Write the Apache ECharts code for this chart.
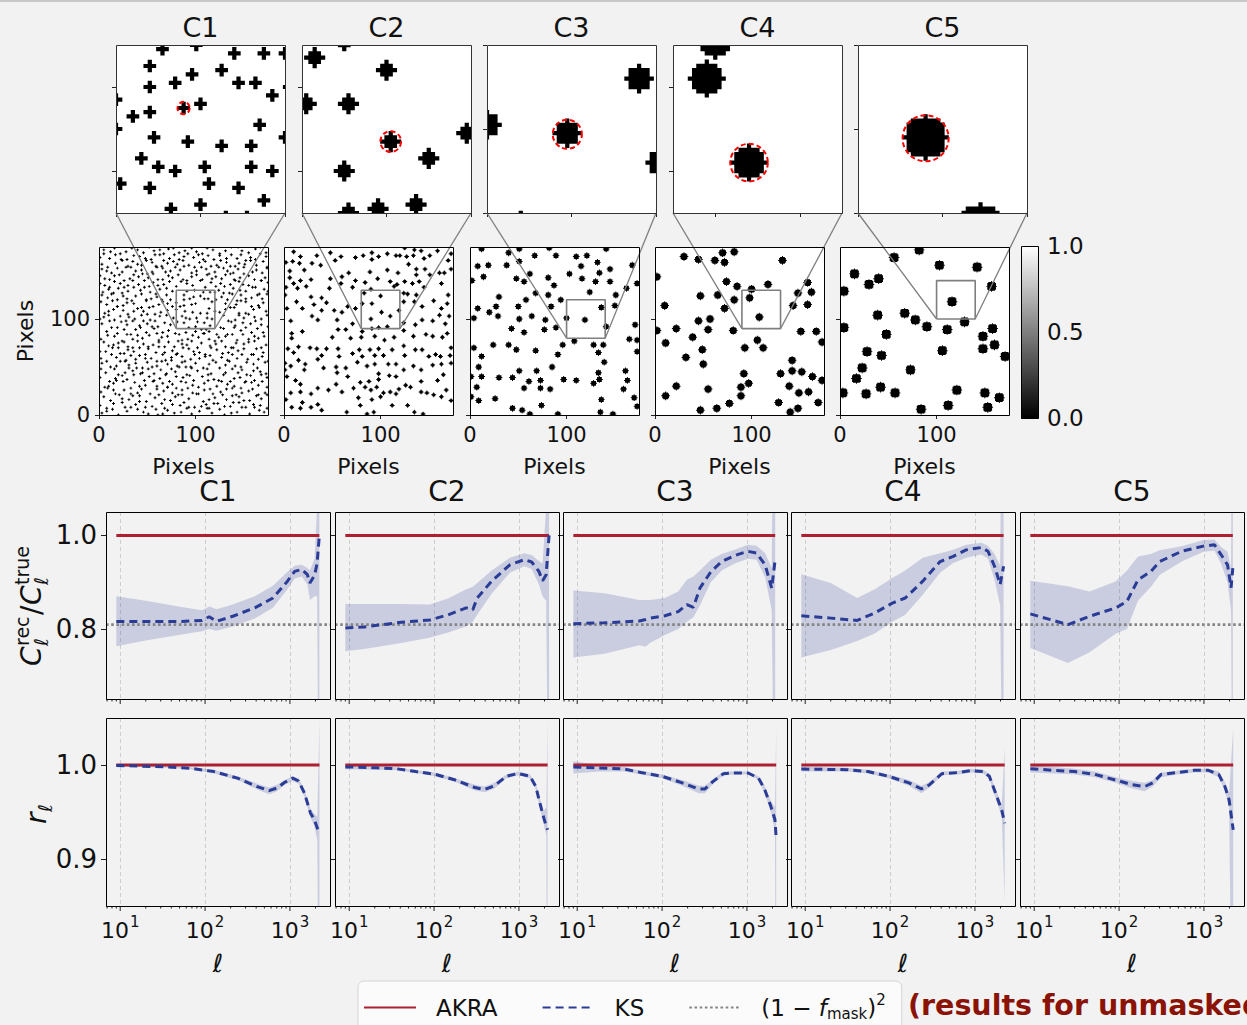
<!DOCTYPE html>
<html><head><meta charset="utf-8">
<script src="https://cdn.jsdelivr.net/npm/echarts@6/dist/echarts.min.js"></script>
<style>html,body{margin:0;padding:0;background:#f2f2f2;}#c{width:1247px;height:1025px;}</style>
</head><body><div id="c"></div>
<script>
// ---------------- DATA ----------------
const configNames = ['C1','C2','C3','C4','C5'];
// hole radius (mask pixels) for each configuration
const holeRadius = [1,2,3,4,5];
// highlighted hole (red dashed circle) in each zoom window
const holeCenters = [[96,115],[101,107],[119,99],[108,102],[116,118]];
// zoom windows [xmin,xmax,ymin,ymax] in mask pixels
const zoomBoxes = [[80,120,90,130],[80,120,90,130],[100,140,80,120],[90,130,90,130],[100,140,100,140]];
const maskSize = [0,175];
const pixelTicks = [0,100];
const cbarRange = [0,1];
const cbarTicks = [0,0.5,1];

const maskC1 = [
[91,129],[99,130],[108,128],[115,128],[120,128],[88,125],[88,120],[94,121],[98,123],[105,124],[109,121],[113,121],[117,118],[121,120],[80,117],[100,116],[96,115],[88,114],[84,113],[80,110],[114,111],[89,108],[97,107],[105,106],[112,106],[120,108],[86,103],[90,101],[94,100],[101,101],[112,101],[117,100],[81,97],[88,96],[102,97],[109,96],[115,93],[100,92],[93,91],[106,89],[111,89],
[3,2],[14,6],[20,0],[29,4],[33,8],[46,3],[51,1],[59,6],[61,0],[71,5],[78,2],[91,7],[96,1],[104,4],[106,9],[117,2],[125,6],[130,0],[143,3],[148,8],[156,1],[166,5],[171,3],
[8,4],[40,6],[66,1],[85,3],[112,7],[137,2],[161,8],
[1,10],[8,7],[24,13],[27,8],[38,11],[42,14],[55,9],[65,12],[68,7],[84,10],[88,13],[99,8],[111,11],[114,7],[123,12],[136,9],[139,13],[152,8],[160,11],[174,7],
[15,12],[48,8],[76,11],[93,8],[119,12],[130,9],[145,13],[167,10],
[5,19],[12,15],[17,22],[31,16],[35,20],[49,14],[58,18],[62,21],[74,15],[79,19],[93,17],[101,22],[108,14],[120,18],[128,21],[132,16],[145,19],[150,15],[163,20],[168,17],
[24,17],[42,20],[68,16],[86,21],[114,16],[138,20],[156,15],[174,21],
[2,24],[9,28],[21,21],[26,26],[40,23],[44,27],[53,22],[67,25],[71,29],[82,21],[86,26],[97,23],[115,27],[118,22],[126,24],[138,28],[142,21],[155,25],[159,27],[172,23],
[15,26],[33,22],[60,27],[76,23],[92,28],[103,22],[109,26],[132,27],[148,23],[165,21],
[6,29],[15,33],[18,36],[33,28],[37,34],[48,31],[56,35],[60,30],[76,32],[80,28],[90,34],[103,29],[109,33],[113,36],[122,30],[133,32],[147,28],[151,34],[165,31],[169,35],
[10,30],[25,35],[42,30],[66,33],[71,29],[85,35],[97,31],[127,35],[140,30],[158,34],[174,29],
[1,39],[11,35],[24,41],[29,37],[43,43],[47,36],[52,40],[63,38],[69,42],[73,35],[87,39],[94,41],[98,36],[107,40],[119,37],[129,42],[136,35],[140,38],[157,41],[161,36],[174,39],
[17,38],[36,42],[57,36],[80,40],[113,42],[124,36],[146,39],[152,35],[168,42],
[7,44],[16,48],[20,42],[35,46],[39,49],[57,43],[64,47],[79,45],[83,50],[91,42],[102,46],[112,48],[116,43],[125,49],[144,44],[148,47],[153,42],[167,45],
[2,48],[27,44],[31,49],[45,44],[51,48],[70,43],[75,48],[96,49],[131,44],[138,48],[160,46],[173,43],
[3,54],[12,50],[27,56],[31,52],[45,49],[50,55],[60,51],[71,53],[75,57],[95,50],[100,54],[108,49],[121,55],[131,52],[135,56],[141,51],[160,53],[164,49],[172,55],
[18,51],[22,56],[38,54],[55,50],[65,56],[81,51],[86,55],[90,50],[114,53],[147,50],[153,55],
[8,56],[18,60],[22,64],[38,58],[42,62],[54,59],[66,63],[69,57],[86,61],[89,56],[104,59],[115,62],[118,57],[127,60],[148,63],[154,58],[169,61],[175,56],
[2,59],[13,63],[28,57],[33,62],[48,59],[60,56],[75,60],[80,63],[95,58],[99,63],[110,61],[133,57],[138,63],[143,59],[160,63],[165,58],
[1,66],[14,70],[26,64],[30,68],[48,63],[51,69],[59,65],[62,71],[76,67],[81,64],[93,69],[98,66],[110,63],[122,68],[134,65],[139,70],[144,67],[158,63],[163,69],
[7,66],[20,70],[36,66],[42,70],[68,65],[87,70],[104,65],[116,70],[128,64],[150,69],[170,65],
[5,76],[10,72],[20,75],[35,70],[40,77],[56,73],[68,71],[72,76],[86,74],[102,70],[106,75],[115,72],[127,77],[131,71],[150,74],[155,76],[168,70],[173,73],
[15,73],[26,76],[30,71],[46,74],[51,71],[62,76],[78,71],[82,77],[91,73],[96,77],[121,74],[137,70],[142,75],[161,77],
[2,79],[16,82],[24,77],[29,84],[45,80],[52,83],[62,78],[65,81],[79,85],[92,79],[97,83],[120,77],[124,81],[138,84],[143,78],[161,82],[165,80],
[9,83],[35,79],[40,83],[71,82],[86,78],[103,81],[108,85],[114,79],[131,82],[149,84],[155,79],[171,82],
[8,87],[13,91],[33,84],[38,89],[49,86],[57,90],[60,85],[72,88],[83,84],[90,86],[100,87],[109,85],[114,87],[129,90],[133,84],[147,88],[152,91],[170,86],
[19,85],[26,89],[43,91],[66,86],[122,84],[140,91],[158,86],[164,90],
[3,95],[19,91],[23,97],[42,93],[46,98],[55,92],[68,96],[74,94],[126,91],[137,97],[141,93],[157,95],[162,98],[175,92],
[11,98],[29,94],[35,98],[50,95],[61,92],[149,96],[168,94],
[1,100],[10,104],[28,98],[31,102],[50,105],[53,99],[63,103],[77,101],[129,104],[134,98],[150,101],[155,105],[168,100],
[5,102],[16,99],[22,103],[37,100],[44,104],[58,98],[70,104],[141,99],[145,104],[161,102],[174,104],
[6,106],[15,110],[19,113],[36,108],[40,111],[58,105],[71,109],[125,107],[140,112],[145,106],[160,110],[173,108],
[10,108],[25,109],[30,105],[46,108],[52,112],[64,107],[131,110],[152,106],[166,112],
[2,118],[25,114],[29,117],[44,112],[49,119],[62,115],[66,118],[76,113],[131,116],[136,112],[152,118],[165,114],[170,117],
[8,115],[14,119],[19,113],[36,116],[56,113],[71,116],[142,115],[147,119],[158,113],
[9,122],[13,126],[34,119],[38,124],[54,121],[70,125],[74,120],[127,123],[143,119],[147,125],[158,122],[174,126],
[3,125],[19,120],[25,124],[29,121],[44,126],[49,120],[60,123],[65,120],[133,120],[138,126],[152,121],[164,125],[169,121],
[4,128],[20,132],[24,127],[43,130],[47,133],[59,126],[63,131],[76,129],[124,130],[135,127],[139,132],[152,129],[166,126],[171,131],
[10,131],[15,127],[30,129],[36,133],[53,128],[70,132],[129,127],[146,130],[159,133],[175,129],
[1,137],[11,133],[16,139],[30,135],[35,140],[52,134],[56,138],[67,136],[80,134],[85,139],[97,135],[105,140],[110,133],[126,137],[130,134],[145,139],[149,136],[162,133],[175,138],
[6,135],[22,137],[26,133],[41,136],[47,140],[61,135],[73,139],[91,137],[116,138],[121,134],[136,136],[141,140],[155,135],[168,140],
[6,142],[21,146],[26,140],[41,144],[45,147],[61,141],[72,145],[76,143],[91,140],[101,146],[117,142],[121,144],[136,147],[140,141],[155,145],[168,140],[172,143],
[1,145],[11,141],[16,145],[32,142],[36,146],[51,143],[56,147],[66,141],[82,146],[87,141],[96,144],[107,141],[112,146],[127,142],[131,146],[146,143],[150,147],[161,141],
[3,152],[13,148],[33,154],[38,150],[50,147],[66,153],[69,149],[84,151],[88,155],[96,148],[111,152],[114,147],[129,153],[133,150],[150,154],[159,149],[163,151],
[8,150],[19,153],[24,149],[28,154],[44,151],[55,149],[60,154],[74,150],[79,154],[101,150],[106,154],[120,149],[124,154],[139,148],[144,152],[169,148],[174,153],
[9,154],[17,158],[24,161],[44,156],[55,159],[59,155],[77,160],[81,157],[99,154],[104,159],[122,156],[126,161],[141,155],[145,158],[170,160],[174,154],
[3,157],[30,155],[35,160],[40,157],[49,161],[65,155],[71,158],[87,161],[93,156],[110,160],[116,155],[132,159],[136,155],[151,157],[157,161],[163,156],
[1,164],[5,168],[29,162],[36,166],[48,163],[63,167],[67,161],[88,165],[92,168],[108,162],[113,166],[132,163],[137,167],[152,161],[157,164],[167,168],
[11,163],[17,167],[23,162],[42,165],[54,162],[58,167],[73,163],[78,167],[83,162],[98,164],[103,167],[119,162],[125,166],[143,163],[147,167],[162,162],[173,165],
[12,170],[16,174],[22,168],[40,172],[52,175],[57,171],[72,173],[83,169],[96,174],[101,170],[118,172],[125,168],[144,175],[148,171],[162,173],[173,169],
[5,172],[28,170],[34,174],[46,169],[63,172],[67,168],[77,174],[89,171],[107,168],[112,174],[131,171],[137,175],[155,169],[167,175]
];
const maskC2 = [
[83,127],[100,124],[81,116],[91,116],[101,107],[119,109],[110,103],[90,100],[91,90],[98,91],[107,92],[90,131],
[10,170],[17,165],[34,166],[48,169],[59,165],[53,161],[74,164],[82,166],[91,169],[98,165],[107,168],[116,166],[125,174],[135,172],[142,171],[151,166],[159,171],[173,168],[170,161],[2,159],[9,160],[16,158],[29,158],[38,156],[91,162],[120,166],[127,165],[134,166],[145,163],
[21,151],[6,150],[6,143],[10,137],[17,140],[28,141],[48,142],[60,144],[67,148],[89,149],[107,151],[118,148],[129,157],[137,152],[146,152],[137,146],[151,146],[161,148],[166,148],[173,152],[74,140],[84,138],[97,142],[110,139],[117,136],[125,139],[133,137],[140,139],[163,137],[2,133],[14,132],[23,134],
[1,125],[13,118],[19,111],[28,123],[31,115],[39,122],[44,117],[47,132],[59,137],[71,133],[114,134],[124,127],[128,126],[137,125],[145,133],[170,125],[169,116],[124,118],[135,118],[143,113],[155,119],[163,111],[52,109],[60,107],[66,113],[74,111],
[3,111],[7,98],[19,87],[29,103],[35,99],[39,109],[55,99],[56,89],[64,89],[71,95],[143,99],[154,98],[161,104],[167,95],[171,103],[124,96],[136,94],[147,84],[154,82],[164,81],[169,85],[8,85],[8,80],[50,81],[69,80],[81,87],[80,81],[94,82],[104,78],[114,81],[124,88],[134,82],
[4,69],[10,65],[15,71],[27,70],[34,69],[44,69],[39,62],[35,58],[56,69],[57,61],[71,64],[78,68],[81,61],[89,68],[94,62],[98,69],[103,62],[112,68],[124,72],[125,62],[136,68],[143,68],[150,61],[157,63],[162,61],[173,70],[172,62],
[1,54],[7,51],[15,57],[22,53],[21,47],[41,49],[54,50],[55,44],[64,49],[76,55],[86,51],[94,53],[98,43],[108,53],[116,53],[124,47],[134,51],[142,47],[154,52],[163,53],[173,54],[165,42],[1,47],
[3,40],[12,36],[17,32],[7,23],[17,24],[28,22],[35,28],[46,26],[54,32],[60,24],[66,40],[72,28],[79,34],[84,29],[88,35],[90,26],[96,29],[98,37],[103,23],[109,41],[116,40],[110,24],[116,22],[119,27],[126,31],[131,29],[142,35],[142,24],[148,23],[155,21],[159,36],[163,19],[168,26],[173,15],
[2,16],[8,8],[17,7],[19,13],[28,8],[35,11],[39,5],[65,3],[77,18],[79,10],[86,1],[91,16],[93,3],[112,10],[128,10],[135,3],[144,1],[100,19]
];
const maskC3 = [
[100,101],[119,99],[136,112],[141,92],[108,77],
[12,173],[40,169],[51,173],[67,166],[82,174],[89,166],[110,165],[121,166],[141,173],[8,155],[19,156],[38,156],[51,160],[132,159],[115,155],[134,148],[145,152],[168,156],[2,140],[14,144],[48,142],[56,139],[62,147],[81,143],[87,135],[103,147],[116,142],[130,139],[145,139],[124,128],[151,125],[162,132],[173,137],[30,123],[58,120],[68,127],[81,125],[94,120],[8,111],[20,107],[27,113],[29,103],[50,113],[51,100],[64,103],[78,99],[84,113],[150,114],[4,101],[43,90],[56,86],[77,89],[89,91],[171,94],[4,70],[12,61],[24,73],[40,73],[48,68],[68,67],[91,63],[96,73],[128,73],[138,73],[133,65],[165,79],[173,78],[173,66],[139,55],[9,50],[1,40],[12,40],[30,39],[44,39],[51,46],[69,46],[85,50],[97,37],[110,36],[128,33],[133,44],[134,37],[161,46],[163,36],[7,29],[56,28],[61,35],[73,36],[73,28],[83,27],[159,27],[1,19],[9,15],[26,17],[74,10],[44,7],[54,5],[62,1],[91,1],[136,16],[135,3],[148,1],[170,18],[173,9]
];
const maskC4 = [
[100,131],[98,122],[108,102],
[2,144],[30,165],[45,162],[62,161],[70,169],[72,159],[82,170],[132,161],[74,139],[85,134],[117,136],[82,120],[65,125],[47,124],[10,114],[72,111],[148,127],[162,128],[158,138],[143,114],[158,115],[45,98],[57,100],[55,89],[22,90],[2,88],[81,88],[151,87],[167,87],[173,76],[11,75],[39,81],[49,68],[50,53],[32,60],[93,70],[106,78],[112,70],[142,57],[130,43],[142,46],[152,45],[163,40],[173,36],[139,30],[149,23],[159,24],[169,13],[128,13],[140,3],[148,7],[92,43],[97,33],[89,29],[89,20],[77,12],[64,7],[47,5],[55,27],[22,30],[11,20]
];
const maskC5 = [
[116,118],[129,97],
[82,172],[56,164],[103,156],[142,154],[15,147],[30,136],[40,142],[4,129],[157,134],[39,104],[67,106],[78,99],[90,92],[111,89],[4,91],[48,84],[148,82],[158,90],[160,73],[148,69],[106,67],[28,66],[43,62],[171,61],[23,49],[17,38],[73,47],[3,23],[27,22],[42,29],[57,23],[121,26],[150,23],[165,18],[84,6],[112,10],[153,8]
];

// power-spectrum ratio: [ell, KS mean, band low, band high]
const ratioC1 = [[9,0.816,0.763,0.870],[20,0.816,0.775,0.860],[53,0.816,0.788,0.847],[92,0.818,0.795,0.840],[112,0.826,0.800,0.848],[136,0.816,0.796,0.842],[212,0.827,0.805,0.852],[385,0.845,0.822,0.870],[630,0.866,0.845,0.892],[936,0.902,0.885,0.922],[1137,0.923,0.908,0.935],[1383,0.927,0.912,0.937],[1606,0.916,0.895,0.930],[1720,0.898,0.862,0.925],[1953,0.915,0.870,0.950],[2090,0.940,0.870,1.060],[2222,1.000,0.200,1.800]];
const ratioC2 = [[9,0.802,0.752,0.853],[15,0.804,0.757,0.853],[41,0.814,0.770,0.853],[89,0.819,0.781,0.852],[146,0.830,0.792,0.865],[239,0.845,0.805,0.885],[286,0.841,0.815,0.890],[322,0.866,0.830,0.898],[477,0.902,0.875,0.925],[781,0.937,0.920,0.952],[1159,0.948,0.934,0.962],[1412,0.943,0.928,0.958],[1720,0.923,0.895,0.945],[1899,0.903,0.870,0.940],[2094,0.916,0.860,1.060],[2265,1.000,0.200,1.800]];
const ratioC3 = [[9,0.811,0.739,0.882],[21,0.813,0.747,0.876],[54,0.817,0.765,0.862],[64,0.820,0.762,0.862],[72,0.823,0.770,0.862],[108,0.828,0.787,0.866],[155,0.837,0.800,0.880],[196,0.852,0.815,0.905],[234,0.846,0.825,0.912],[279,0.887,0.850,0.925],[375,0.922,0.900,0.948],[504,0.944,0.925,0.960],[718,0.957,0.940,0.969],[1023,0.966,0.950,0.980],[1296,0.962,0.948,0.978],[1641,0.937,0.910,0.962],[1958,0.887,0.840,0.930],[2152,0.948,0.200,1.800]];
const ratioC4 = [[9,0.828,0.739,0.917],[20,0.823,0.755,0.898],[41,0.818,0.774,0.866],[66,0.834,0.790,0.885],[106,0.855,0.815,0.909],[151,0.866,0.830,0.925],[243,0.902,0.873,0.952],[389,0.944,0.920,0.962],[555,0.955,0.941,0.969],[789,0.969,0.952,0.980],[1193,0.974,0.959,0.984],[1426,0.966,0.950,0.978],[1702,0.934,0.905,0.960],[1983,0.895,0.850,0.935],[2177,0.934,0.200,1.800]];
const ratioC5 = [[9,0.832,0.759,0.903],[25,0.809,0.727,0.891],[45,0.827,0.750,0.880],[92,0.845,0.790,0.902],[124,0.859,0.800,0.925],[167,0.905,0.860,0.955],[238,0.923,0.890,0.960],[301,0.944,0.915,0.968],[546,0.966,0.944,0.977],[988,0.977,0.965,0.990],[1330,0.980,0.967,0.991],[1590,0.959,0.940,0.975],[1897,0.937,0.900,0.965],[2088,0.888,0.840,0.930],[2189,0.930,0.200,1.800]];

// cross-correlation coefficient: [ell, KS mean, band low, band high]
const rC1 = [[9,0.9995,0.9985,1.0005],[35,0.998,0.997,0.999],[67,0.9965,0.9955,0.9975],[127,0.993,0.991,0.995],[241,0.986,0.984,0.988],[412,0.977,0.974,0.980],[568,0.9727,0.969,0.976],[703,0.9755,0.972,0.979],[870,0.9816,0.979,0.984],[1077,0.986,0.983,0.988],[1264,0.983,0.980,0.986],[1485,0.970,0.966,0.974],[1743,0.949,0.944,0.954],[1940,0.942,0.935,0.948],[2100,0.933,0.920,0.945],[2230,0.929,0.600,1.048]];
const rC2 = [[9,0.998,0.9955,1.0005],[21,0.997,0.995,0.999],[36,0.996,0.9945,0.9975],[61,0.993,0.9915,0.9945],[104,0.990,0.988,0.992],[178,0.984,0.982,0.986],[303,0.976,0.973,0.979],[395,0.974,0.971,0.977],[516,0.978,0.975,0.981],[711,0.988,0.986,0.990],[979,0.991,0.989,0.993],[1349,0.988,0.986,0.990],[1583,0.977,0.974,0.980],[1760,0.960,0.955,0.965],[1958,0.944,0.937,0.951],[2100,0.935,0.925,0.955],[2177,0.931,0.600,1.048]];
const rC3 = [[9,0.998,0.991,1.004],[18.5,0.9968,0.993,1.000],[36,0.9957,0.993,0.998],[56.5,0.992,0.990,0.994],[100,0.988,0.986,0.990],[173,0.981,0.978,0.984],[270,0.9745,0.970,0.978],[320,0.9745,0.970,0.978],[400,0.9826,0.980,0.985],[529,0.9908,0.989,0.993],[739,0.9915,0.990,0.993],[1035,0.9915,0.990,0.993],[1369,0.986,0.984,0.988],[1619,0.974,0.970,0.978],[1914,0.956,0.950,0.962],[2138,0.942,0.930,0.955],[2213,0.922,0.600,1.039]];
const rC4 = [[9,0.9957,0.993,0.9985],[31,0.995,0.993,0.997],[55,0.993,0.991,0.995],[96,0.988,0.986,0.990],[167,0.981,0.978,0.984],[234,0.9745,0.970,0.978],[292,0.979,0.976,0.982],[409,0.9908,0.989,0.993],[640,0.992,0.990,0.994],[894,0.994,0.992,0.996],[1250,0.993,0.991,0.995],[1479,0.988,0.985,0.991],[1750,0.970,0.965,0.975],[2071,0.952,0.945,0.958],[2240,0.938,0.855,1.018]];
const rC5 = [[9,0.9961,0.992,1.000],[17,0.9943,0.991,0.998],[30,0.993,0.990,0.996],[52,0.990,0.987,0.993],[91,0.984,0.981,0.987],[143,0.979,0.975,0.983],[200,0.977,0.972,0.981],[250,0.981,0.977,0.984],[313,0.990,0.987,0.992],[489,0.992,0.990,0.994],[764,0.9943,0.992,0.996],[1130,0.9943,0.992,0.996],[1495,0.990,0.987,0.993],[1770,0.977,0.972,0.982],[1978,0.963,0.955,0.970],[2213,0.931,0.600,1.039]];

const akraValue = 1.0;
const fmaskLevel = 0.809;
const ellRange = [6.8, 2966];
const ratioRange = [0.65, 1.05];
const rRange = [0.85, 1.05];
const ratioTicks = [0.8, 1.0];
const rTicks = [0.9, 1.0];
const xMajorTicks = [10, 100, 1000];
const xMinorTicks = [7,8,9,20,30,40,50,60,70,80,90,200,300,400,500,600,700,800,900,2000];

// ---------------- LAYOUT / STYLE ----------------
const FONT = 'DejaVu Sans';
const INK = '#111111';
const RED = '#ad1f31';
const BLUE = '#2b3c97';
const zoomL = [116,302,487,673,858], ZT = 45, ZW = 169, ZH = 168;
const ovL = [99,284,470,655,840], OT = 247, OW = 169, OH = 168;
const lowL = [106,335,563,791,1020], LW = 224, RT = 512, RH = 187, QT = 718, QH = 188;
const CB = {left:1021, top:246, width:17, height:172};

const masks = [maskC1, maskC2, maskC3, maskC4, maskC5];
const ratioSets = [ratioC1, ratioC2, ratioC3, ratioC4, ratioC5];
const rSets = [rC1, rC2, rC3, rC4, rC5];

function discD(r) {
  let d = '';
  for (let dy = -r; dy <= r; dy++) {
    const w = Math.floor(Math.sqrt(r*r - dy*dy) + 1e-9);
    const y0 = dy + r, x0 = r - w, x1 = r + w + 1;
    d += 'M' + x0 + ',' + y0 + 'H' + x1 + 'V' + (y0 + 1) + 'H' + x0 + 'Z';
  }
  return d;
}
function mult20(a, b) { const t = []; for (let v = Math.ceil(a/20)*20; v <= b; v += 20) t.push(v); return t; }

const grid = [], xAxis = [], yAxis = [], series = [], graphic = [];
function addGrid(left, top, width, height, extra) {
  grid.push(Object.assign({left:left, top:top, width:width, height:height, outerBoundsMode:'none', containLabel:false, show:false}, extra || {}));
  return grid.length - 1;
}
function frame(l, t, w, h, color) {
  graphic.push({type:'rect', z:100, silent:true, shape:{x:l+0.5, y:t+0.5, width:w, height:h}, style:{fill:'none', stroke:color || '#000', lineWidth:1}});
}
function txt(s, x, y, size, o) {
  o = o || {};
  const al = o.align || 'center';
  return {type:'text', x:x, y:y, z:100, silent:true, style:{text:s, fontSize:size, fontFamily:FONT, fontStyle:o.italic ? 'italic' : 'normal', fontWeight:o.bold ? 'bold' : 'normal', fill:o.color || INK, align:al, verticalAlign:'middle', textAlign:al, textVerticalAlign:'middle'}};
}
const tickStyle = {color:'#222', width:1};
const splitStyle = {color:'#cdcdcd', width:1, type:[4,3]};

function maskSeries(gi, data, r, sc) {
  const d = discD(r), s = (2*r + 1) * sc;
  return {type:'custom', xAxisIndex:gi, yAxisIndex:gi, silent:true, clip:true, z:2, data:data, encode:{x:0, y:1},
    renderItem:(params, api) => {
      const p = api.coord([api.value(0), api.value(1)]);
      return {type:'path', shape:{pathData:d, x:p[0]-s/2, y:p[1]-s/2, width:s, height:s, layout:'cover'}, style:{fill:'#000'}};
    }};
}
function circleSeries(gi, pt, radPix) {
  return {type:'custom', xAxisIndex:gi, yAxisIndex:gi, silent:true, clip:true, z:3, data:[pt], encode:{x:0, y:1},
    renderItem:(params, api) => {
      const p = api.coord([api.value(0), api.value(1)]);
      return {type:'circle', shape:{cx:p[0], cy:p[1], r:radPix}, style:{fill:'none', stroke:'#ff0000', lineWidth:2, lineDash:[5,3]}};
    }};
}

// ---- zoom panels (top row) ----
for (let k = 0; k < 5; k++) {
  const b = zoomBoxes[k];
  const gi = addGrid(zoomL[k], ZT, ZW, ZH, {show:true, backgroundColor:'#ffffff', borderWidth:0});
  xAxis.push({gridIndex:gi, type:'value', min:b[0], max:b[1], axisLine:{show:false}, axisTick:{show:true, customValues:mult20(b[0],b[1]), length:4, lineStyle:tickStyle}, axisLabel:{show:false}, splitLine:{show:false}});
  yAxis.push({gridIndex:gi, type:'value', min:b[2], max:b[3], axisLine:{show:false}, axisTick:{show:true, customValues:mult20(b[2],b[3]), length:4, lineStyle:tickStyle}, axisLabel:{show:false}, splitLine:{show:false}});
  const sc = ZW / (b[1] - b[0]);
  series.push(maskSeries(gi, masks[k], holeRadius[k], sc));
  series.push(circleSeries(gi, holeCenters[k], (holeRadius[k] + 0.45) * sc));
  frame(zoomL[k], ZT, ZW, ZH, '#333');
  graphic.push(txt(configNames[k], zoomL[k] + ZW/2, 27, 27));
}
// ---- overview panels (second row) ----
for (let k = 0; k < 5; k++) {
  const gi = addGrid(ovL[k], OT, OW, OH, {show:true, backgroundColor:'#ffffff', borderWidth:0});
  xAxis.push({gridIndex:gi, type:'value', min:maskSize[0], max:maskSize[1], axisLine:{show:false}, axisTick:{show:true, customValues:pixelTicks, length:4, lineStyle:tickStyle}, axisLabel:{show:true, customValues:pixelTicks, fontSize:21, fontFamily:FONT, color:INK, margin:9}, splitLine:{show:false}});
  yAxis.push({gridIndex:gi, type:'value', min:maskSize[0], max:maskSize[1], axisLine:{show:false}, axisTick:{show:true, customValues:pixelTicks, length:4, lineStyle:tickStyle}, axisLabel:{show:k === 0, customValues:pixelTicks, fontSize:21, fontFamily:FONT, color:INK, margin:9}, splitLine:{show:false}});
  const sc = OW / (maskSize[1] - maskSize[0]);
  series.push(maskSeries(gi, masks[k], holeRadius[k], sc));
  const b = zoomBoxes[k];
  series.push({type:'line', xAxisIndex:gi, yAxisIndex:gi, data:[[b[0],b[2]],[b[1],b[2]],[b[1],b[3]],[b[0],b[3]],[b[0],b[2]]], symbol:'none', lineStyle:{color:'#7f7f7f', width:1.6}, silent:true, clip:false, z:4});
  frame(ovL[k], OT, OW, OH, '#000');
  graphic.push(txt('Pixels', ovL[k] + OW/2, 466, 22));
}
graphic.push({type:'group', x:25, y:331, rotation:Math.PI/2, z:100, children:[txt('Pixels', 0, 0, 22)]});

// ---- colorbar ----
{
  const gi = addGrid(CB.left, CB.top, CB.width, CB.height);
  xAxis.push({gridIndex:gi, type:'value', min:0, max:1, show:false});
  yAxis.push({gridIndex:gi, type:'value', position:'right', min:cbarRange[0], max:cbarRange[1], axisLine:{show:false}, axisTick:{show:true, customValues:cbarTicks, length:4, lineStyle:tickStyle}, axisLabel:{show:true, customValues:cbarTicks, fontSize:23, fontFamily:FONT, color:INK, margin:9, formatter:v => v.toFixed(1)}, splitLine:{show:false}});
  series.push({type:'custom', xAxisIndex:gi, yAxisIndex:gi, silent:true, clip:false, data:[[0, cbarRange[0], 1, cbarRange[1]]], encode:{x:[0,2], y:[1,3]},
    renderItem:(params, api) => {
      const a = api.coord([api.value(0), api.value(1)]), c = api.coord([api.value(2), api.value(3)]);
      return {type:'rect', shape:{x:a[0], y:c[1], width:c[0]-a[0], height:a[1]-c[1]}, style:{fill:new echarts.graphic.LinearGradient(0,0,0,1,[{offset:0,color:'#ffffff'},{offset:1,color:'#000000'}])}};
    }});
  frame(CB.left, CB.top, CB.width, CB.height, '#000');
}

// ---- lower panels ----
function logX(gi, labels) {
  return {gridIndex:gi, type:'log', logBase:10, min:ellRange[0], max:ellRange[1], axisLine:{show:false}, axisTick:{show:false},
    axisLabel: labels ? {show:true, margin:8, showMinLabel:false, showMaxLabel:false,
      formatter:v => { const e = Math.round(Math.log10(v)); return Math.abs(Math.pow(10, e) - v) < 1e-6 * v ? '{b|10}{s|' + e + '}' : ''; },
      rich:{b:{fontSize:22, fontFamily:FONT, color:INK, verticalAlign:'middle'}, s:{fontSize:15, fontFamily:FONT, color:INK, verticalAlign:'middle', padding:[0,0,17,1]}}} : {show:false},
    splitLine:{show:true, showMinLine:false, showMaxLine:false, lineStyle:splitStyle}};
}
function valY(gi, range, ticks, labels) {
  return {gridIndex:gi, type:'value', min:range[0], max:range[1], axisLine:{show:false}, axisTick:{show:true, customValues:ticks, length:5, lineStyle:tickStyle},
    axisLabel:{show:labels, customValues:ticks, fontSize:26, fontFamily:FONT, color:INK, margin:9, formatter:v => v.toFixed(1)},
    splitLine:{show:true, showMinLine:false, showMaxLine:false, lineStyle:splitStyle}};
}
function tickSeries(gi, values, yBase, len) {
  return {type:'custom', xAxisIndex:gi, yAxisIndex:gi, silent:true, clip:false, z:6, data:values.map(v => [v, yBase]), encode:{x:0, y:1},
    renderItem:(params, api) => { const p = api.coord([api.value(0), api.value(1)]); return {type:'line', shape:{x1:p[0], y1:p[1], x2:p[0], y2:p[1]+len}, style:{stroke:'#222', lineWidth:1}}; }};
}
function bandSeries(gi, rows) {
  return {type:'custom', xAxisIndex:gi, yAxisIndex:gi, silent:true, clip:true, z:1, data:rows.map(r => [r[0], r[2], r[3]]), encode:{x:0, y:[1,2]},
    renderItem:(params, api) => {
      if (params.dataIndex !== 0) return null;
      const pts = [];
      for (let i = 0; i < rows.length; i++) pts.push(api.coord([rows[i][0], rows[i][3]]));
      for (let i = rows.length - 1; i >= 0; i--) pts.push(api.coord([rows[i][0], rows[i][2]]));
      return {type:'polygon', shape:{points:pts}, style:{fill:BLUE, opacity:0.2}};
    }};
}
function panelSeries(gi, rows, withFmask, yMin) {
  const out = [
    bandSeries(gi, rows),
    {type:'line', name:'AKRA', xAxisIndex:gi, yAxisIndex:gi, data:[[rows[0][0], akraValue], [rows[rows.length-1][0], akraValue]], symbol:'none', lineStyle:{color:RED, width:3}, itemStyle:{color:RED}, silent:true, z:2},
    {type:'line', name:'KS', xAxisIndex:gi, yAxisIndex:gi, data:rows.map(r => [r[0], r[1]]), symbol:'none', lineStyle:{color:BLUE, width:3, type:[8,5]}, itemStyle:{color:BLUE}, silent:true, z:3}
  ];
  if (withFmask) out.push({type:'line', name:'fmask', xAxisIndex:gi, yAxisIndex:gi, data:[[ellRange[0], fmaskLevel], [ellRange[1], fmaskLevel]], symbol:'none', lineStyle:{color:'#858585', width:2.6, type:[2.6,2.6]}, itemStyle:{color:'#858585'}, silent:true, z:2});
  out.push(tickSeries(gi, xMajorTicks, yMin, 5), tickSeries(gi, xMinorTicks, yMin, 2.5));
  return out;
}
for (let k = 0; k < 5; k++) {
  const gi = addGrid(lowL[k], RT, LW, RH);
  xAxis.push(logX(gi, false));
  yAxis.push(valY(gi, ratioRange, ratioTicks, k === 0));
  series.push(...panelSeries(gi, ratioSets[k], true, ratioRange[0]));
  frame(lowL[k], RT, LW, RH, '#000');
  graphic.push(txt(configNames[k], lowL[k] + LW/2, 491, 28));
}
for (let k = 0; k < 5; k++) {
  const gi = addGrid(lowL[k], QT, LW, QH);
  xAxis.push(logX(gi, true));
  yAxis.push(valY(gi, rRange, rTicks, k === 0));
  series.push(...panelSeries(gi, rSets[k], false, rRange[0]));
  frame(lowL[k], QT, LW, QH, '#000');
  graphic.push(txt('ℓ', lowL[k] + LW/2, 963, 25, {italic:true}));
}
// y-axis labels of the lower rows
graphic.push({type:'group', x:31, y:606, rotation:Math.PI/2, z:100, children:[
  txt('C', -60, 0, 28, {italic:true, align:'left'}),
  txt('rec', -40, -9, 19, {align:'left'}),
  txt('ℓ', -40, 10, 19, {italic:true, align:'left'}),
  txt('/', -9, 0, 28, {align:'left'}),
  txt('C', 1, 0, 28, {italic:true, align:'left'}),
  txt('true', 21, -9, 19, {align:'left'}),
  txt('ℓ', 21, 10, 19, {italic:true, align:'left'})
]});
graphic.push({type:'group', x:36, y:812, rotation:Math.PI/2, z:100, children:[
  txt('r', -12, 0, 28, {italic:true, align:'left'}),
  txt('ℓ', 0, 9, 19, {italic:true, align:'left'})
]});
graphic.push({type:'rect', z:100, silent:true, shape:{x:0, y:0, width:1247, height:2}, style:{fill:'#c8c8c8'}});
graphic.push(txt('(results for unmasked maps)', 908, 1005, 28.5, {bold:true, align:'left', color:'#8b1306'}));

const option = {
  backgroundColor:'#f2f2f2',
  animation:false,
  grid:grid, xAxis:xAxis, yAxis:yAxis, series:series,
  legend:{
    left:358, top:981, orient:'horizontal', data:['AKRA','KS','fmask'], selectedMode:false,
    itemWidth:52, itemHeight:14, itemGap:44, padding:[11,16,14,5],
    itemStyle:{opacity:0, borderWidth:0},
    backgroundColor:'rgba(252,252,252,0.9)', borderColor:'#d4d4d4', borderWidth:1, borderRadius:6,
    textStyle:{fontFamily:FONT, fontSize:23, color:INK, padding:[0,0,0,15],
      rich:{it:{fontFamily:FONT, fontSize:23, fontStyle:'italic', color:INK},
            sub:{fontFamily:FONT, fontSize:15, color:INK, verticalAlign:'middle', padding:[12,0,0,0]},
            sup:{fontFamily:FONT, fontSize:15, color:INK, verticalAlign:'middle', padding:[0,0,16,0]}}},
    formatter:n => n === 'fmask' ? '(1 − {it|f}{sub|mask}){sup|2}' : n
  }
};

const chart = echarts.init(document.getElementById('c'), null, {renderer:'svg', width:1247, height:1025});
chart.setOption(option);
// connector lines from zoom box (overview) to zoom panel
for (let k = 0; k < 5; k++) {
  const b = zoomBoxes[k];
  const p1 = chart.convertToPixel({gridIndex:5 + k}, [b[0], b[2]]);
  const p2 = chart.convertToPixel({gridIndex:5 + k}, [b[1], b[2]]);
  const q1 = chart.convertToPixel({gridIndex:k}, [b[0], b[2]]);
  const q2 = chart.convertToPixel({gridIndex:k}, [b[1], b[2]]);
  graphic.push({type:'line', z:90, silent:true, shape:{x1:p1[0], y1:p1[1], x2:q1[0], y2:q1[1]}, style:{stroke:'#7f7f7f', lineWidth:1.3}});
  graphic.push({type:'line', z:90, silent:true, shape:{x1:p2[0], y1:p2[1], x2:q2[0], y2:q2[1]}, style:{stroke:'#7f7f7f', lineWidth:1.3}});
}
chart.setOption({graphic:graphic});
</script>
</body></html>
